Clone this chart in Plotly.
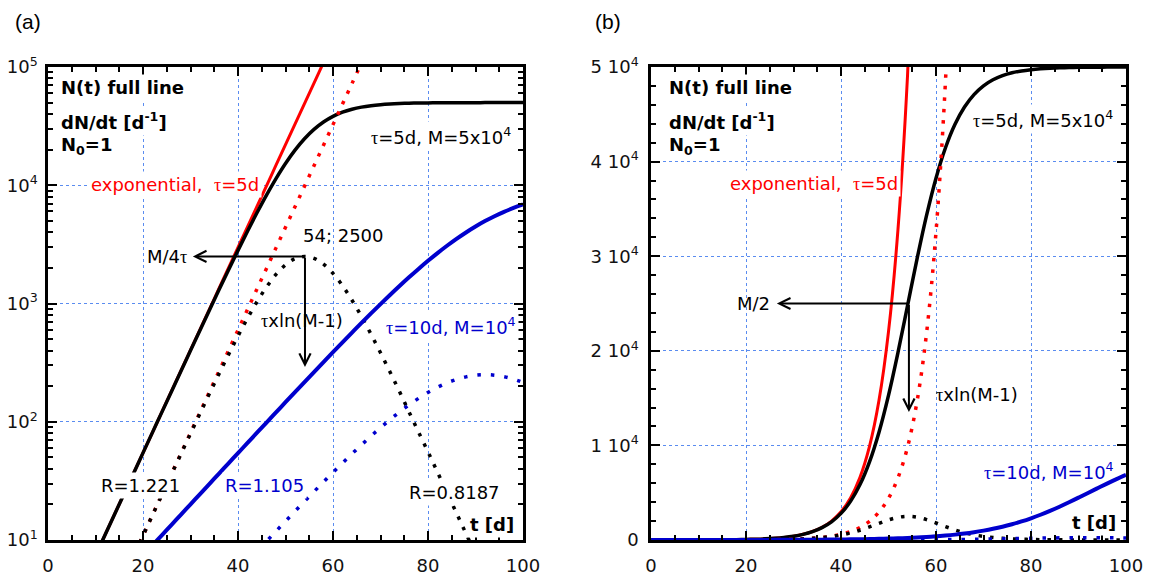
import math
import plotly.graph_objects as go

# ---------------- data ----------------
t = list(range(0, 101, 2))            # days
t_exp = t[:31]                        # 0..60
t_exp_d = t[:34]                      # 0..66

# exponential growth, tau = 5 d : N(t) and dN/dt
exp_N = [1, 1.4918, 2.2255, 3.3201, 4.953, 7.3891, 11.023, 16.445, 24.533, 36.598,
         54.598, 81.451, 121.51, 181.27, 270.43, 403.43, 601.85, 897.85, 1339.4, 1998.2,
         2981.0, 4447.1, 6634.2, 9897.1, 14765, 22026, 32860, 49021, 73130, 109097, 162755]
exp_dN = [0.2, 0.29836, 0.4451, 0.664, 0.9906, 1.4778, 2.2046, 3.289, 4.9066, 7.3196,
          10.92, 16.29, 24.302, 36.254, 54.086, 80.686, 120.37, 179.57, 267.88, 399.64,
          596.2, 889.42, 1326.8, 1979.4, 2953.0, 4405.2, 6572, 9804.2, 14626, 21819,
          32551, 48560, 72443, 108073]

# logistic, tau = 5 d, M = 5x10^4
log5_N = [1, 1.4918, 2.2255, 3.32, 4.9528, 7.388, 11.021, 16.44, 24.521, 36.571,
          54.54, 81.32, 121.22, 180.62, 268.98, 400.2, 594.7, 882.03, 1304.5, 1921.5,
          2813.3, 4083.9, 5857.2, 8261.9, 11399, 15290, 19829, 24753, 29697, 34287,
          38250, 41462, 43935, 45765, 47080, 48004, 48644, 49083, 49386, 49587,
          49720, 49812, 49874, 49915, 49943, 49962, 49974, 49983, 49989, 49992, 49995]
log5_dN = [0.2, 0.298, 0.445, 0.664, 0.99, 1.477, 2.204, 3.288, 4.902, 7.309,
           10.9, 16.237, 24.185, 35.994, 53.507, 79.4, 117.53, 173.29, 254.09, 369.53,
           530.9, 750.06, 1034.2, 1379.4, 1760.0, 2122.9, 2393.1, 2499.8, 2411.8, 2155.0,
           1797.8, 1416.0, 1065.9, 775.3, 549.9, 383.3, 263.8, 180.0, 121.2, 81.9,
           55.64, 37.43, 25.16, 16.89, 11.33, 7.6, 5.1, 3.42, 2.29, 1.54, 1.03]

# logistic, tau = 10 d, M = 10^4
log10_N = [1, 1.2214, 1.4918, 1.8221, 2.2254, 2.7181, 3.3199, 4.055, 4.9525, 6.0492,
           7.383, 9.017, 11.011, 13.446, 16.418, 20.046, 24.473, 29.875, 36.465, 44.503,
           54.305, 66.245, 80.793, 98.505, 120.05, 146.24, 178.04, 216.63, 263.34, 319.77,
           387.83, 469.66, 567.74, 684.83, 823.95, 988.32, 1181.3, 1406.1, 1665.6, 1962.0,
           2296.6, 2669.4, 3078.4, 3520.1, 3988.5, 4476.3, 4974.3, 5472.9, 5962.3, 6433.1, 6877.8]
log10_dN = [0.1, 0.122, 0.149, 0.182, 0.222, 0.272, 0.332, 0.405, 0.495, 0.605,
            0.738, 0.901, 1.1, 1.343, 1.639, 2.0, 2.441, 2.979, 3.633, 4.43,
            5.401, 6.581, 8.014, 9.753, 11.861, 14.41, 17.487, 21.194, 25.641, 30.954,
            37.279, 44.76, 53.551, 63.793, 75.606, 89.064, 104.18, 120.84, 138.82, 157.71,
            176.92, 195.68, 213.08, 228.1, 239.77, 247.26, 249.99, 247.76, 240.74, 229.46, 214.74]

x_ticks = [0, 20, 40, 60, 80, 100]
a_ytickvals = [10, 100, 1000, 10000, 100000]
a_yticktext = ["10<sup>1</sup>", "10<sup>2</sup>", "10<sup>3</sup>", "10<sup>4</sup>", "10<sup>5</sup>"]
b_ytickvals = [0, 10000, 20000, 30000, 40000, 50000]
b_yticktext = ["0", "1 10<sup>4</sup>", "2 10<sup>4</sup>", "3 10<sup>4</sup>", "4 10<sup>4</sup>", "5 10<sup>4</sup>"]

peak_t, peak_a = 54.1, 2500      # M/4tau peak
half_t, half_b = 54.3, 25000     # M/2

# ---------------- style ----------------
RED = "#ff0000"
BLUE = "#0000cd"
BLACK = "#000000"
GRID = "#5a8cf0"
FONT = "DejaVu Sans"
TAU = '<span style="font-family:Liberation Serif">τ</span>'

fig = go.Figure()

def add_curves(xa, ya):
    kw = dict(xaxis=xa, yaxis=ya, mode="lines", line_shape="spline", showlegend=False,
              hoverinfo="skip")
    fig.add_trace(go.Scatter(x=t_exp, y=exp_N, line=dict(color=RED, width=3), **kw))
    fig.add_trace(go.Scatter(x=t, y=log5_N, line=dict(color=BLACK, width=3.5), **kw))
    fig.add_trace(go.Scatter(x=t_exp_d, y=exp_dN, line=dict(color=RED, width=3.5, dash="3.5px,8px"), **kw))
    fig.add_trace(go.Scatter(x=t, y=log5_dN, line=dict(color=BLACK, width=3.5, dash="3.5px,8px"), **kw))
    fig.add_trace(go.Scatter(x=t, y=log10_dN, line=dict(color=BLUE, width=3.5, dash="3.5px,10px"), **kw))
    fig.add_trace(go.Scatter(x=t, y=log10_N, line=dict(color=BLUE, width=4), **kw))

add_curves("x", "y")
add_curves("x2", "y2")

axis_common = dict(showline=True, linewidth=2.5, linecolor=BLACK, mirror="allticks",
                   ticks="inside", ticklen=9, tickwidth=2, tickcolor=BLACK,
                   showgrid=True, gridcolor=GRID, gridwidth=1, griddash="3px,3px",
                   zeroline=False, automargin=False,
                   tickfont=dict(family=FONT, size=18, color="#111"))

xaxis_common = dict(axis_common, range=[0, 100], tickvals=x_ticks, ticklabelstandoff=8,
                    minor=dict(ticks="inside", ticklen=5, tickwidth=1.5, tickcolor=BLACK,
                               dtick=5, tick0=0, showgrid=False))

minor_log = [k * 10 ** e for e in range(1, 5) for k in range(2, 10)]

W0, W1 = 48, 1126
fig.update_layout(
    width=1155, height=572,
    margin=dict(l=48, r=1155 - W1, t=67, b=32, autoexpand=False),
    paper_bgcolor="white", plot_bgcolor="white",
    xaxis=dict(xaxis_common, domain=[0, 475 / 1078], anchor="y"),
    xaxis2=dict(xaxis_common, domain=[603 / 1078, 1], anchor="y2"),
    yaxis=dict(axis_common, type="log", range=[1, 5], tickvals=a_ytickvals,
               ticktext=a_yticktext, anchor="x", ticklabelstandoff=4,
               minor=dict(ticks="inside", ticklen=5, tickwidth=1.5, tickcolor=BLACK,
                          tickvals=minor_log, showgrid=False)),
    yaxis2=dict(axis_common, range=[0, 50000], tickvals=b_ytickvals,
                ticktext=b_yticktext, anchor="x2", ticklabelstandoff=6,
                minor=dict(ticks="inside", ticklen=5, tickwidth=1.5, tickcolor=BLACK,
                           dtick=2000, tick0=0, showgrid=False)),
)

def px(xp):
    return (xp - W0) / (W1 - W0)

def py(yp):
    return (540 - yp) / 473

def note(text, xp, yp, color=BLACK, size=18, bg=True, xanchor="left", family=FONT):
    fig.add_annotation(x=px(xp), y=py(yp), xref="paper", yref="paper", text=text,
                       showarrow=False, xanchor=xanchor, yanchor="middle",
                       font=dict(family=family, size=size, color=color),
                       bgcolor="white" if bg else "rgba(0,0,0,0)", borderpad=2)

# panel labels
note("(a)", 12, 21, size=21, bg=False, family="Liberation Sans")
note("(b)", 592, 21, size=21, bg=False, family="Liberation Sans")

for x0 in (58, 666):
    note("<b>N(t) full line</b>", x0, 88)
    note("<b>dN/dt [d<sup>-1</sup>]</b>", x0, 121)
    note("<b>N<sub>0</sub>=1</b>", x0, 146)

# panel (a)
note(f"exponential,  {TAU}=5d", 88, 184, color=RED)
note(f"{TAU}=5d, M=5x10<sup>4</sup>", 368, 136)
note("54; 2500", 300, 235, bg=False)
note(f"M/4{TAU}", 190, 256, bg=False, xanchor="right")
note(f"{TAU}xln(M-1)", 258, 320, bg=False)
note(f"{TAU}=10d, M=10<sup>4</sup>", 383, 326, color=BLUE)
note("R=1.221", 98, 485)
note("R=1.105", 222, 485, color=BLUE)
note("R=0.8187", 406, 492)
note("<b>t [d]</b>", 467, 524)

# panel (b)
note(f"exponential,  {TAU}=5d", 727, 183, color=RED)
note(f"{TAU}=5d, M=5x10<sup>4</sup>", 970, 119)
note("M/2", 734, 303, bg=False)
note(f"{TAU}xln(M-1)", 933, 394, bg=False)
note(f"{TAU}=10d, M=10<sup>4</sup>", 981, 471, color=BLUE, bg=False)
note("<b>t [d]</b>", 1069, 522)

# arrows
arrow = dict(showarrow=True, text="", arrowhead=5, arrowsize=1.1, arrowwidth=2,
             arrowcolor=BLACK, standoff=0, startstandoff=0)
fig.add_annotation(x=30.5, y=math.log10(peak_a), xref="x", yref="y",
                   ax=peak_t, ay=math.log10(peak_a), axref="x", ayref="y", **arrow)
fig.add_annotation(x=peak_t, y=math.log10(290), xref="x", yref="y",
                   ax=peak_t, ay=math.log10(peak_a), axref="x", ayref="y", **arrow)
fig.add_annotation(x=26.5, y=half_b, xref="x2", yref="y2",
                   ax=half_t, ay=half_b, axref="x2", ayref="y2", **arrow)
fig.add_annotation(x=half_t, y=13520, xref="x2", yref="y2",
                   ax=half_t, ay=half_b, axref="x2", ayref="y2", **arrow)

fig.write_html("out.html", config={"displayModeBar": False},
               post_script="document.body.style.margin='0';document.body.style.overflow='hidden';")
